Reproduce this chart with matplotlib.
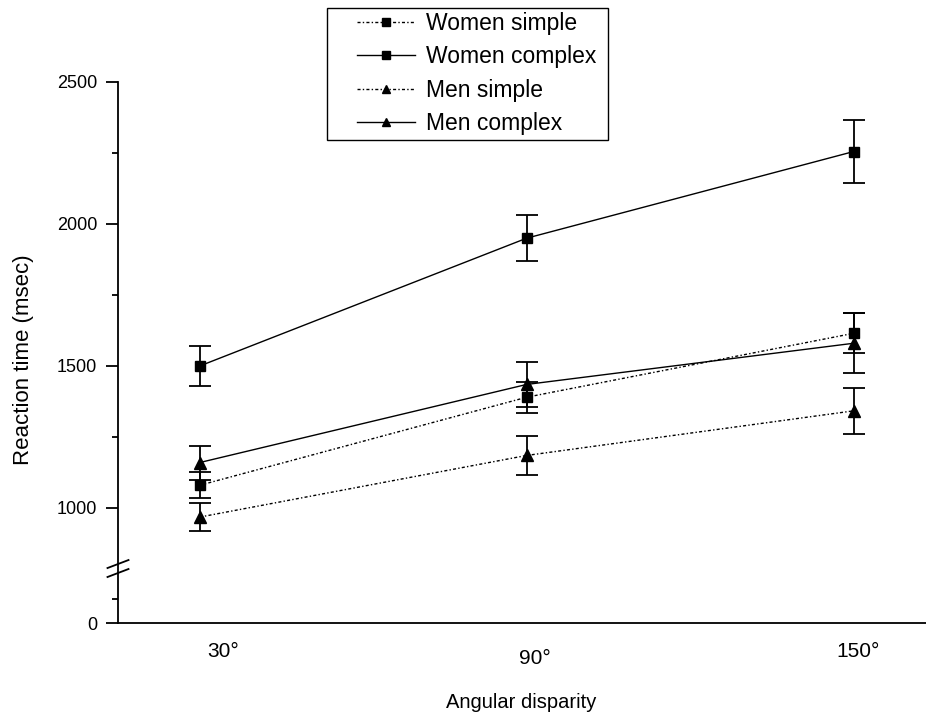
import numpy as np
import matplotlib
matplotlib.use("Agg")
import matplotlib.pyplot as plt
from matplotlib.patches import Rectangle
import matplotlib.transforms as mtransforms

plt.rcParams['font.family'] = ['Liberation Sans', 'DejaVu Sans']

# ---- data ----
angles = [30, 90, 150]
angle_labels = ['30°', '90°', '150°']
series_names = ['Women simple', 'Women complex', 'Men simple', 'Men complex']
women_simple = [1080, 1390, 1615]
women_simple_err = [45, 55, 70]
women_complex = [1500, 1950, 2255]
women_complex_err = [70, 80, 110]
men_simple = [968, 1185, 1342]
men_simple_err = [50, 70, 80]
men_complex = [1160, 1435, 1580]
men_complex_err = [60, 80, 105]
y_major = [0, 1000, 1500, 2000, 2500]
y_minor = [250, 1250, 1750, 2250]

# ---- broken-axis scale (0-500 compressed, gap 500-800, linear above 800) ----
def fwd(v):
    v = np.asarray(v, dtype=float)
    return np.where(v >= 800, v,
                    np.where(v >= 500, 764 + (v - 500) * 0.12, 595 + v * 0.338))
def inv(p):
    p = np.asarray(p, dtype=float)
    return np.where(p >= 800, p,
                    np.where(p >= 764, 500 + (p - 764) / 0.12, (p - 595) / 0.338))

W, H = 926, 723
fig = plt.figure(figsize=(W / 100, H / 100), dpi=100)
ax = fig.add_axes([118 / W, 1 - 623 / H, (926 - 118) / W, (623 - 82) / H])
ax.set_yscale('function', functions=(fwd, inv))

dotted = (0, (2.2, 1.6, 1.0, 1.6))
styles = [
    (women_simple, women_simple_err, 's', 7.2, dotted),
    (women_complex, women_complex_err, 's', 7.2, '-'),
    (men_simple, men_simple_err, '^', 8.6, dotted),
    (men_complex, men_complex_err, '^', 8.6, '-'),
]
handles = []
for (vals, errs, mk, ms, ls), name in zip(styles, series_names):
    ax.errorbar(angles, vals, yerr=errs, fmt='none', ecolor='black',
                elinewidth=1.3, capsize=8, capthick=1.3, zorder=2)
    ln, = ax.plot(angles, vals, color='black', linestyle=ls, linewidth=1.0,
                  marker=mk, markersize=ms, markerfacecolor='black',
                  markeredgecolor='black', zorder=3, label=name)
    handles.append(ln)

ax.set_xlim(15, 163.3)
ax.set_ylim(0, 2500)

for s in ['top', 'right']:
    ax.spines[s].set_visible(False)
for s in ['left', 'bottom']:
    ax.spines[s].set_linewidth(1.3)

ax.set_yticks(y_major)
ax.set_yticklabels([str(v) for v in y_major])
ax.set_yticks(y_minor, minor=True)
ax.tick_params(axis='y', which='major', direction='out', length=8.6, width=1.3,
               pad=6.5, labelsize=13)
ax.tick_params(axis='y', which='minor', direction='out', length=4.3, width=1.3)

ax.set_xticks(angles)
ax.set_xticklabels(angle_labels)
ax.tick_params(axis='x', which='both', length=0, pad=14, labelsize=15)
ax.xaxis.set_minor_locator(matplotlib.ticker.NullLocator())

# shift x tick labels as in the reference
offsets = [(16.5, 0), (6, -5), (3, 0)]
for tick, (dx, dy) in zip(ax.xaxis.get_major_ticks(), offsets):
    lab = tick.label1
    lab.set_transform(lab.get_transform() +
                      mtransforms.ScaledTranslation(dx / 72, dy / 72, fig.dpi_scale_trans))

# axis break marks
bt = ax.transAxes
for yc in [0.109, 0.0924]:
    ax.plot([-0.013, 0.013], [yc - 0.0074, yc + 0.0074], transform=bt,
            color='black', lw=1.3, clip_on=False, zorder=5)

ax.set_ylabel('Reaction time (msec)', fontsize=16, va='center')
ax.yaxis.set_label_coords((24 - 118) / 808, (623 - 360) / 541)
ax.set_xlabel('Angular disparity', fontsize=14.5, va='center')
ax.xaxis.set_label_coords((521 - 118) / 808, (623 - 703) / 541)

# legend
leg = ax.legend(handles=handles, loc='upper left',
                bbox_to_anchor=(357 / W, 1 - 12 / H), bbox_transform=fig.transFigure,
                frameon=False, borderpad=0, borderaxespad=0, fontsize=16.5,
                handlelength=2.55, handletextpad=0.45, labelspacing=0.45,
                numpoints=1, markerscale=0.75)
box = Rectangle((327 / W, 1 - 140 / H), (608 - 327) / W, (140 - 8) / H,
                transform=fig.transFigure, fill=False, edgecolor='black',
                linewidth=1.0, zorder=10)
fig.patches.append(box)

fig.savefig('out.png', dpi=100)
